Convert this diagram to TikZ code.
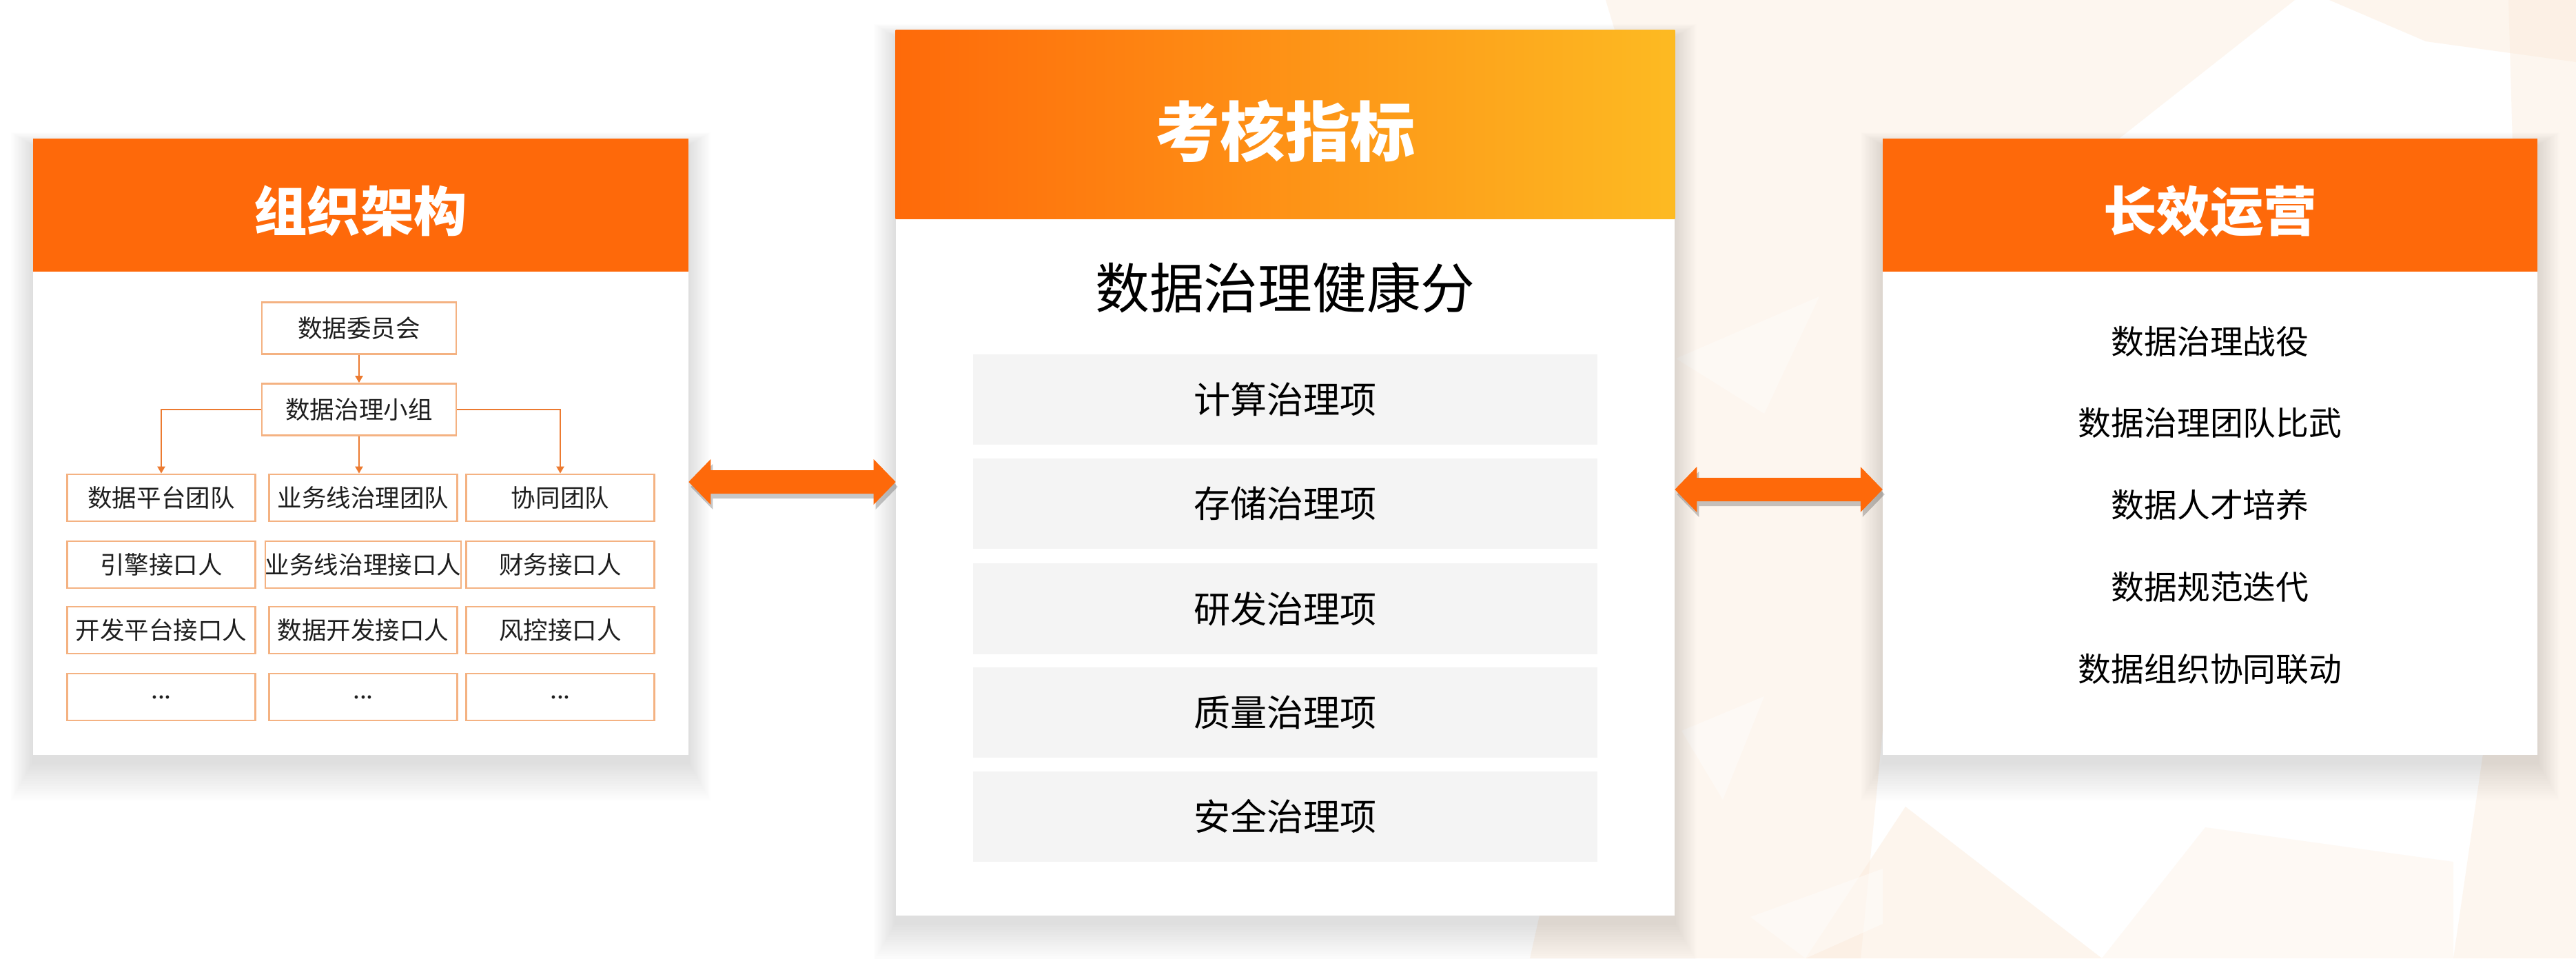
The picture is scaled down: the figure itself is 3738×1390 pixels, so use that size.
\documentclass[tikz,border=0pt]{standalone}
\usepackage{fontspec}
\setmainfont{Noto Sans CJK SC}
\usetikzlibrary{calc,arrows.meta}
\definecolor{hdr}{RGB}{254,105,10}
\definecolor{gradL}{RGB}{254,106,10}
\definecolor{gradR}{RGB}{253,186,34}
\definecolor{boxline}{RGB}{244,178,130}
\definecolor{conn}{RGB}{236,122,48}
\definecolor{greyfill}{RGB}{244,244,244}
\definecolor{peach}{RGB}{252,236,220}
\definecolor{txt}{RGB}{30,30,30}
\newcommand{\panelshadow}[4]{%
  \foreach \k in {1,...,16}{%
    \fill[black,opacity=0.009] ({#1-2*\k},{#2-1.2*\k+10}) rectangle ({#3+2*\k},{#4+3.5*\k+10});
  }}
\newcommand{\dblarrow}[3]{%
  \fill[#3] (#1) -- ($(#1)+(32,-33)$) -- ($(#1)+(32,-17)$) -- ($(#2)+(-32,-17)$) -- ($(#2)+(-32,-33)$) -- (#2)
   -- ($(#2)+(-32,33)$) -- ($(#2)+(-32,17)$) -- ($(#1)+(32,17)$) -- ($(#1)+(32,33)$) -- cycle;}
\begin{document}
\begin{tikzpicture}[x=0.01cm,y=-0.01cm,
  panelbody/.style={fill=white,inner sep=0pt,outer sep=0pt},
  hdrbox/.style={fill=hdr,inner sep=0pt,outer sep=0pt},
  ttl/.style={text=white,font=\fontsize{22pt}{26pt}\selectfont\bfseries,inner sep=0pt},
  obox/.style={draw=boxline,line width=0.75pt,fill=white,minimum width=2.73cm,minimum height=0.68cm,inner sep=0pt,font=\fontsize{10.1pt}{12pt}\selectfont,text=txt},
  tbox/.style={obox,minimum width=2.82cm,minimum height=0.75cm},
  connl/.style={draw=conn,line width=0.6pt,-{Triangle[length=0.1cm,width=0.11cm]}},
  gbox/.style={fill=greyfill,minimum width=9.06cm,minimum height=1.31cm,inner sep=0pt,font=\fontsize{15.1pt}{18pt}\selectfont,text=black},
  ritem/.style={font=\fontsize{13.6pt}{16pt}\selectfont,text=black,inner sep=0pt},
  arrowc/.style={fill=hdr},
  arrowsh/.style={fill=black,opacity=0.22}]
\useasboundingbox (0,0) rectangle (3738,1390);
% background
\fill[white] (0,0) rectangle (3738,1390);
\fill[peach,opacity=0.45] (2330,0) -- (3330,0) -- (3000,260) -- (2780,560) -- (2700,1390) -- (2220,1390) -- (2330,900) -- (2420,300) -- cycle;
\fill[peach,opacity=0.5] (2620,1390) -- (2765,1170) -- (3050,1390) -- cycle;
\fill[peach,opacity=0.45] (3640,0) -- (3738,0) -- (3738,1390) -- (3560,1390) -- (3660,700) -- cycle;
\fill[peach,opacity=0.5] (3380,0) -- (3738,0) -- (3738,90) -- (3520,60) -- cycle;
\fill[peach,opacity=0.3] (3050,1390) -- (3200,1200) -- (3560,1250) -- (3560,1390) -- cycle;
\fill[white,opacity=0.4] (2440,1060) -- (2560,1010) -- (2500,1160) -- cycle;
\fill[white,opacity=0.4] (2540,1330) -- (2732,1260) -- (2732,1340) -- (2620,1390) -- cycle;
\fill[white,opacity=0.35] (2432,520) -- (2640,430) -- (2560,600) -- cycle;
% shadows
\panelshadow{48}{201}{999}{1095}
\panelshadow{1300}{44}{2430}{1328}
\panelshadow{2732}{201}{3682}{1095}
% left panel
\node[panelbody,minimum width=9.51cm,minimum height=8.94cm] (lp) at (523.5,648) {};
\node[hdrbox,minimum width=9.51cm,minimum height=1.93cm] (lh) at (523.5,297.5) {};
\node[ttl] (lt) at (523,306) {组织架构};
% middle panel
\node[panelbody,minimum width=11.30cm,minimum height=12.84cm] (mp) at (1865,686) {};
\node[inner sep=0pt,outer sep=0pt,minimum width=11.30cm,minimum height=2.73cm,left color=gradL,right color=gradR] (mh) at (1865,180.5) {};
\node[ttl,font=\fontsize{26.8pt}{30pt}\selectfont\bfseries] (mt) at (1865,190) {考核指标};
\node[font=\fontsize{22.4pt}{26pt}\selectfont,text=black,inner sep=0pt] (ms) at (1865,417) {数据治理健康分};
\foreach \n/\yy/\t in {1/579.5/计算治理项,2/730.5/存储治理项,3/883/研发治理项,4/1033.5/质量治理项,5/1184.5/安全治理项}{
  \node[gbox] (g\n) at (1865,\yy) {\t};
}
% right panel
\node[panelbody,minimum width=9.50cm,minimum height=8.94cm] (rp) at (3207,648) {};
\node[hdrbox,minimum width=9.50cm,minimum height=1.93cm] (rh) at (3207,297.5) {};
\node[ttl] (rt) at (3207,306) {长效运营};
\foreach \n/\yy/\t in {1/495/数据治理战役,2/613/数据治理团队比武,3/732/数据人才培养,4/851/数据规范迭代,5/970/数据组织协同联动}{
  \node[ritem] (r\n) at (3207,\yy) {\t};
}
% tree
\node[tbox] (c1) at (521,476) {数据委员会};
\node[tbox] (t1) at (521,594) {数据治理小组};
\node[obox] (b11) at (234,722) {数据平台团队};
\node[obox] (b12) at (527,722) {业务线治理团队};
\node[obox] (b13) at (813,722) {协同团队};
\node[obox] (b21) at (234,819) {引擎接口人};
\node[obox] (b22) at (527,819) {业务线治理接口人};
\node[obox] (b23) at (813,819) {财务接口人};
\node[obox] (b31) at (234,914) {开发平台接口人};
\node[obox] (b32) at (527,914) {数据开发接口人};
\node[obox] (b33) at (813,914) {风控接口人};
\node[obox] (b41) at (234,1011) {...};
\node[obox] (b42) at (527,1011) {...};
\node[obox] (b43) at (813,1011) {...};
\draw[connl] (c1.south) -- (t1.north);
\draw[connl] (t1.south) -- (t1.south |- b12.north);
\draw[connl] (t1.west) -| (b11.north);
\draw[connl] (t1.east) -| (b13.north);
% double arrows
\coordinate (la1) at (lp.east |- 0,699);
\coordinate (la2) at (mp.west |- 0,699);
\coordinate (ra1) at (mp.east |- 0,710);
\coordinate (ra2) at (rp.west |- 0,710);
\coordinate (la1s) at ($(la1)+(3,7)$);
\coordinate (la2s) at ($(la2)+(3,7)$);
\coordinate (ra1s) at ($(ra1)+(3,7)$);
\coordinate (ra2s) at ($(ra2)+(3,7)$);
\dblarrow{la1s}{la2s}{arrowsh}
\dblarrow{ra1s}{ra2s}{arrowsh}
\dblarrow{la1}{la2}{arrowc}
\dblarrow{ra1}{ra2}{arrowc}
\end{tikzpicture}
\end{document}
